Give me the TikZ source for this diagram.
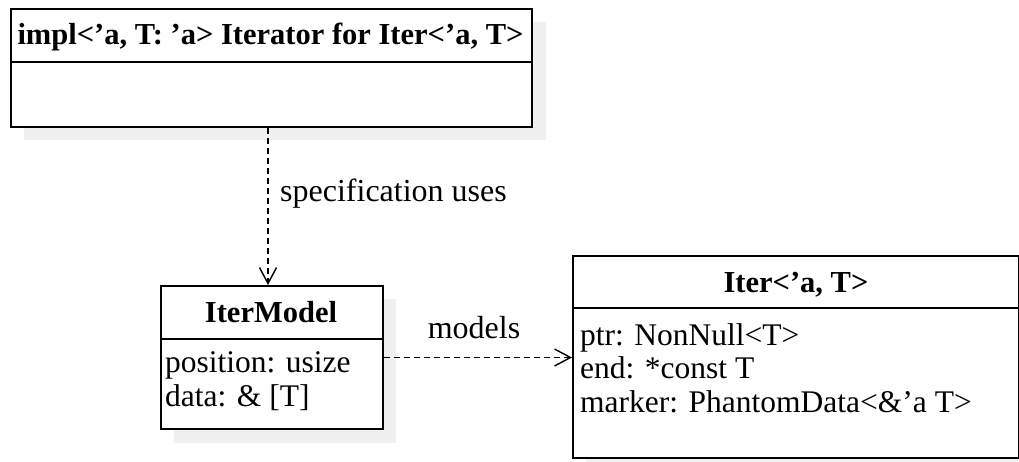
\documentclass[tikz,border=0pt]{standalone}
\usepackage{fontspec}
\setmainfont{Liberation Serif}
\usetikzlibrary{arrows.meta}
\definecolor{shadowgray}{HTML}{F0F0F0}
\tikzset{
  umlbox/.style={draw=black, line width=2pt, fill=white, anchor=north west, inner sep=0pt},
  shadowbox/.style={fill=shadowgray, draw=none, anchor=north west, inner sep=0pt},
  divider/.style={line width=2pt},
  titletext/.style={font=\fontsize{30.5}{33}\selectfont\bfseries, anchor=base, inner sep=0pt},
  bodytext/.style={font=\fontsize{31.5}{33.5}\selectfont, anchor=base west, inner sep=0pt},
  labeltext/.style={font=\fontsize{32}{33}\selectfont, inner sep=0pt},
  dep/.style={line width=1.4pt, dash pattern=on 6pt off 4pt, -{Straight Barb[length=16pt,width=17pt,line width=1.4pt]}}
}
\begin{document}
\begin{tikzpicture}[x=1pt,y=-1pt]
\useasboundingbox (0,0) rectangle (1019,462);
% shadows
\node[shadowbox, minimum width=522pt, minimum height=118pt] (implshadow) at (24,22) {};
\node[shadowbox, minimum width=222pt, minimum height=144pt] (modelshadow) at (174,299) {};
\node[shadowbox, minimum width=446pt, minimum height=202pt] (itershadow) at (586,269) {};
% boxes
\node[umlbox, minimum width=521pt, minimum height=118pt] (impl) at (10,8) {};
\node[umlbox, minimum width=222pt, minimum height=143pt] (itermodel) at (160,285) {};
\node[umlbox, minimum width=446pt, minimum height=202pt] (iter) at (572,255) {};
% dividers
\draw[divider] (impl.west |- 0,62) -- (impl.east |- 0,62);
\draw[divider] (itermodel.west |- 0,339) -- (itermodel.east |- 0,339);
\draw[divider] (iter.west |- 0,308) -- (iter.east |- 0,308);
% texts
\node[titletext] (impltitle) at (270.5,45) {impl<’a, T: ’a> Iterator for Iter<’a, T>};
\node[titletext] (modeltitle) at (271,322) {IterModel};
\node[titletext] (itertitle) at (796,292) {Iter<’a, T>};
\node[bodytext] (modelf1) at (165,372) {position: usize};
\node[bodytext] (modelf2) at (165,406) {data: \& [T]};
\node[bodytext] (iterf1) at (580,345) {ptr: NonNull<T>};
\node[bodytext] (iterf2) at (580,378) {end: *const T};
\node[bodytext] (iterf3) at (580,412) {marker: PhantomData<\&’a T>};
% connectors
\coordinate (ax) at (268,0);
\draw[dep] (impl.south -| ax) -- (itermodel.north -| ax);
\draw[dep] (itermodel.east) -- (iter.west |- itermodel.east);
\node[labeltext, anchor=base west] (speclabel) at (280,202) {specification uses};
\node[labeltext, anchor=base] (modelslabel) at (474,338) {models};
\end{tikzpicture}
\end{document}
